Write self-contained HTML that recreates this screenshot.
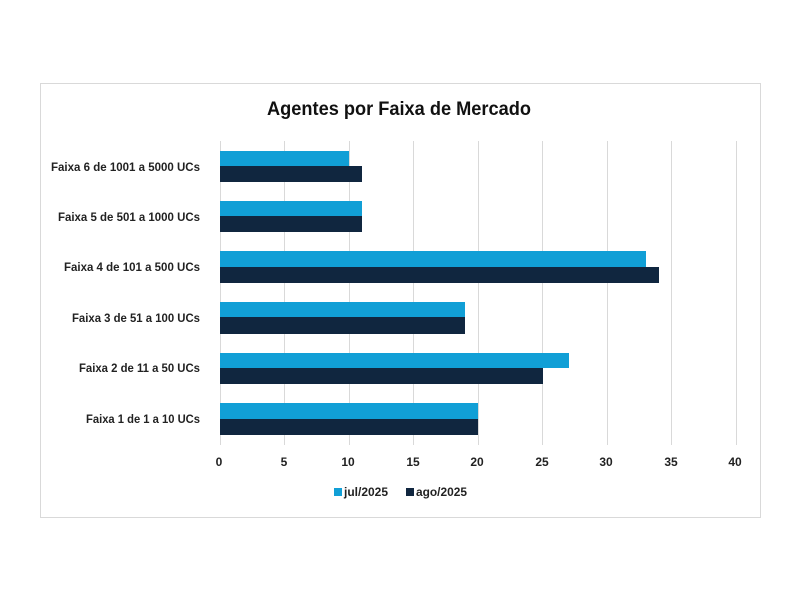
<!DOCTYPE html>
<html><head><meta charset="utf-8"><style>body{margin:0;background:#fff}svg{display:block}</style></head>
<body>
<svg width="800" height="600" xmlns="http://www.w3.org/2000/svg" font-family="'Liberation Sans Narrow','Liberation Sans',sans-serif" font-weight="bold">
<rect x="40.5" y="83.5" width="720" height="434" fill="#fff" stroke="#d9d9d9"/>
<text x="399" y="115" font-size="19" text-anchor="middle" fill="#111" textLength="264" lengthAdjust="spacingAndGlyphs">Agentes por Faixa de Mercado</text>
<g stroke="#d9d9d9" stroke-width="1">
<line x1="220.5" y1="141" x2="220.5" y2="445"/><line x1="284.5" y1="141" x2="284.5" y2="445"/>
<line x1="349.5" y1="141" x2="349.5" y2="445"/><line x1="413.5" y1="141" x2="413.5" y2="445"/>
<line x1="478.5" y1="141" x2="478.5" y2="445"/><line x1="542.5" y1="141" x2="542.5" y2="445"/>
<line x1="607.5" y1="141" x2="607.5" y2="445"/><line x1="671.5" y1="141" x2="671.5" y2="445"/>
<line x1="736.5" y1="141" x2="736.5" y2="445"/>
</g>
<g fill="#119fd6">
<rect x="220" y="151" width="129" height="15"/>
<rect x="220" y="201" width="142" height="15"/>
<rect x="220" y="251" width="426" height="16"/>
<rect x="220" y="302" width="245" height="15"/>
<rect x="220" y="353" width="349" height="15"/>
<rect x="220" y="403" width="258" height="16"/>
</g>
<g fill="#10263f">
<rect x="220" y="166" width="142" height="16"/>
<rect x="220" y="216" width="142" height="16"/>
<rect x="220" y="267" width="439" height="16"/>
<rect x="220" y="317" width="245" height="17"/>
<rect x="220" y="368" width="323" height="16"/>
<rect x="220" y="419" width="258" height="16"/>
</g>
<g font-size="12" fill="#222" text-anchor="end">
<text x="200" y="171" textLength="149" lengthAdjust="spacingAndGlyphs">Faixa 6 de 1001 a 5000 UCs</text>
<text x="200" y="221" textLength="142" lengthAdjust="spacingAndGlyphs">Faixa 5 de 501 a 1000 UCs</text>
<text x="200" y="271" textLength="136" lengthAdjust="spacingAndGlyphs">Faixa 4 de 101 a 500 UCs</text>
<text x="200" y="322" textLength="128" lengthAdjust="spacingAndGlyphs">Faixa 3 de 51 a 100 UCs</text>
<text x="200" y="372" textLength="121" lengthAdjust="spacingAndGlyphs">Faixa 2 de 11 a 50 UCs</text>
<text x="200" y="423" textLength="114" lengthAdjust="spacingAndGlyphs">Faixa 1 de 1 a 10 UCs</text>
</g>
<g font-size="12" fill="#222" text-anchor="middle">
<text x="219" y="466">0</text><text x="284" y="466">5</text><text x="348" y="466">10</text>
<text x="413" y="466">15</text><text x="477" y="466">20</text><text x="542" y="466">25</text>
<text x="606" y="466">30</text><text x="671" y="466">35</text><text x="735" y="466">40</text>
</g>
<rect x="334" y="488" width="8" height="8" fill="#119fd6"/>
<text x="344" y="496" font-size="12" fill="#222" textLength="44" lengthAdjust="spacingAndGlyphs">jul/2025</text>
<rect x="406" y="488" width="8" height="8" fill="#10263f"/>
<text x="416" y="496" font-size="12" fill="#222" textLength="51" lengthAdjust="spacingAndGlyphs">ago/2025</text>
</svg>
</body></html>
